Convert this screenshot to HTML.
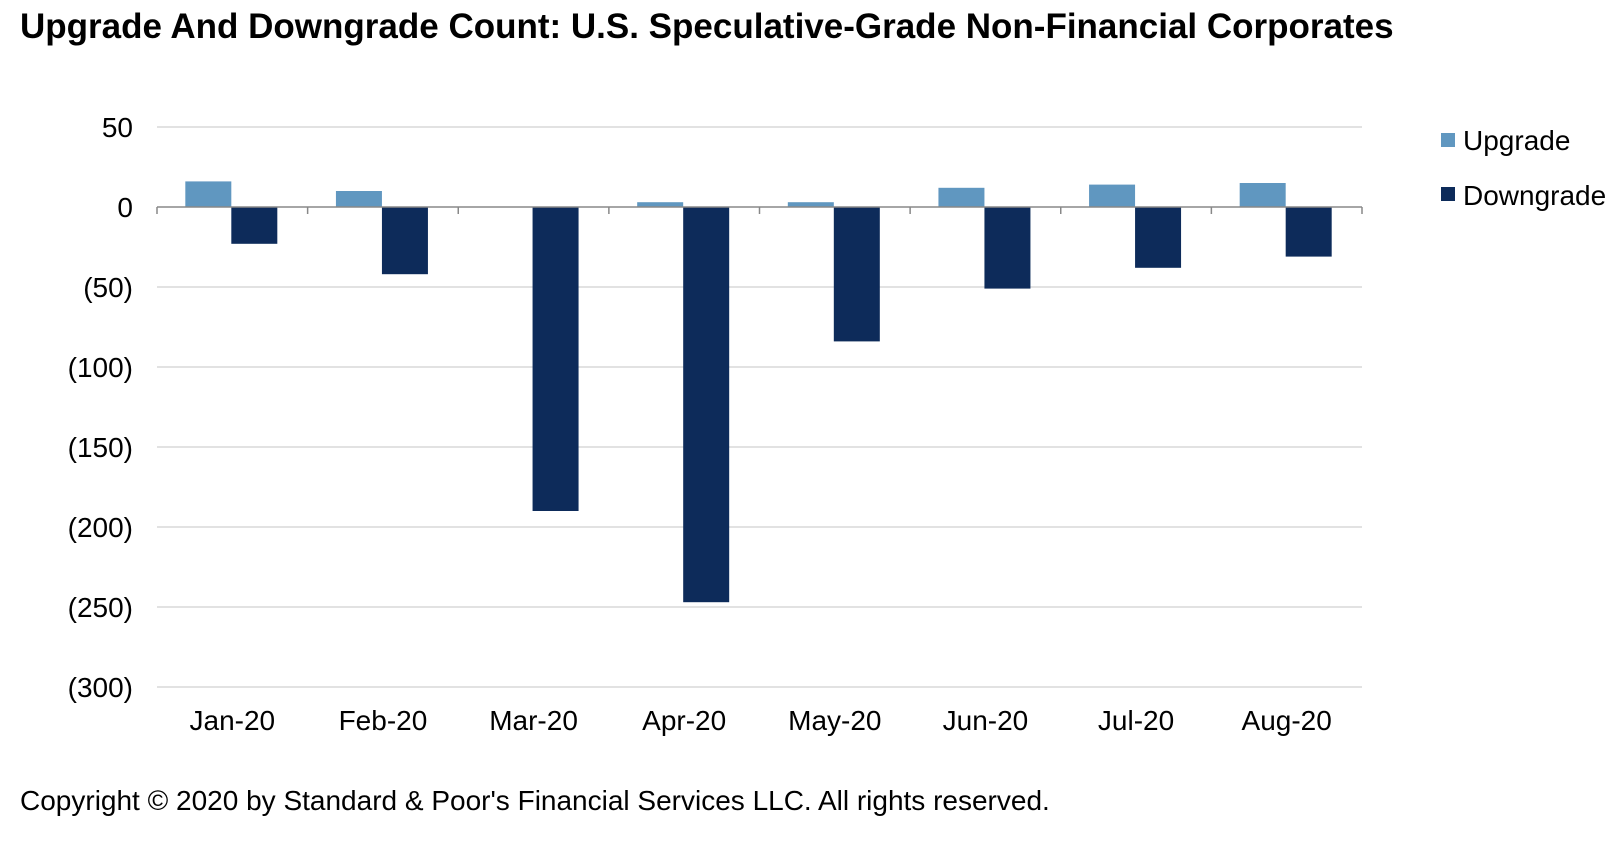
<!DOCTYPE html>
<html><head><meta charset="utf-8"><style>
body{margin:0;background:#fff;font-family:"Liberation Sans",Arial,sans-serif;}
svg text{font-family:"Liberation Sans",Arial,sans-serif;}
</style></head><body>
<svg id="c" width="1624" height="848" xmlns="http://www.w3.org/2000/svg">
<text x="20" y="38" font-size="35" font-weight="bold">Upgrade And Downgrade Count: U.S. Speculative-Grade Non-Financial Corporates</text>
<text x="20" y="810" font-size="28">Copyright © 2020 by Standard &amp; Poor's Financial Services LLC. All rights reserved.</text>
<rect x="1441" y="133" width="14" height="14" fill="#6097c0"/>
<text x="1463" y="150" font-size="28">Upgrade</text>
<rect x="1441" y="187" width="14" height="14" fill="#0d2b5a"/>
<text x="1463" y="205" font-size="28">Downgrade</text>
<g id="plot"></g>
</svg>
<script>
const categories=["Jan-20","Feb-20","Mar-20","Apr-20","May-20","Jun-20","Jul-20","Aug-20"];
const upgrades=[16,10,0,3,3,12,14,15];
const downgrades=[-23,-42,-190,-247,-84,-51,-38,-31];
const yTicks=[50,0,-50,-100,-150,-200,-250,-300];
const yTickLabels=["50","0","(50)","(100)","(150)","(200)","(250)","(300)"];
const L=157,R=1362,T=127,B=687,yMax=50,yMin=-300;
const ns="http://www.w3.org/2000/svg";
const g=document.getElementById('plot');
function y(v){return T+(yMax-v)/(yMax-yMin)*(B-T);}
const cw=(R-L)/categories.length;
function cx(i){return L+cw*(i+0.5);}
function mk(tag,a){const e=document.createElementNS(ns,tag);for(const k in a)e.setAttribute(k,a[k]);g.appendChild(e);return e;}
yTicks.forEach((t,i)=>{
  if(t!==0){const l=mk('line',{x1:L,x2:R,y1:y(t),y2:y(t),stroke:'#d9d9d9','stroke-width':1.5});
  
  }
  const tx=mk('text',{x:133,y:y(t)+10,'font-size':28,'text-anchor':'end'});tx.textContent=yTickLabels[i];
  
  
});
const bw=46;
categories.forEach((c,i)=>{
  const u=upgrades[i];
  const r1=mk('rect',{x:cx(i)-bw-1,y:y(Math.max(u,0)),width:bw,height:Math.abs(y(u)-y(0)),fill:'#6097c0'});
  
  
  const d=downgrades[i];
  const r2=mk('rect',{x:cx(i)-1,y:y(Math.max(d,0)),width:bw,height:Math.abs(y(d)-y(0)),fill:'#0d2b5a'});
  
  
  const tx=mk('text',{x:cx(i),y:730,'font-size':28,'text-anchor':'middle'});tx.textContent=c;
  
  
});
const ax=mk('line',{x1:L,x2:R,y1:y(0),y2:y(0),stroke:'#888','stroke-width':1.5});


for(let i=0;i<=categories.length;i++){
  const tk=mk('line',{x1:L+cw*i,x2:L+cw*i,y1:y(0),y2:y(0)+7,stroke:'#888','stroke-width':1.5});
  
  
}
</script>
</body></html>
